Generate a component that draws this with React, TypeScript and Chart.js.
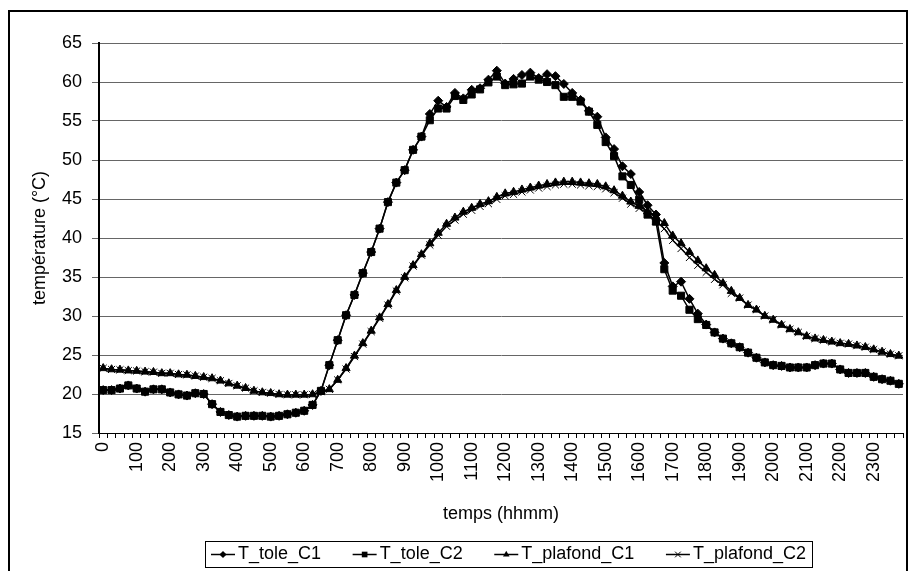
import React, { useEffect, useRef } from 'react';
import { Chart, registerables } from 'chart.js';

Chart.register(...registerables);

const FONT = '"Liberation Sans", Arial, Helvetica, sans-serif';

// time axis: every 15 minutes, labelled hhmm
const hours = [0, 1, 2, 3, 4, 5, 6, 7, 8, 9, 10, 11, 12, 13, 14, 15, 16, 17, 18, 19, 20, 21, 22, 23];
const quarterMinutes = [0, 15, 30, 45];
const categories: string[] = [];
hours.forEach((h) => quarterMinutes.forEach((m) => categories.push(String(h * 100 + m))));

const yTicks = { min: 15, max: 65, step: 5 };

const toleC1 = [
  20.5, 20.5, 20.7, 21.1, 20.7, 20.3, 20.6, 20.6,
  20.2, 19.95, 19.8, 20.1, 20.0, 18.7, 17.7, 17.3,
  17.1, 17.2, 17.2, 17.2, 17.1, 17.2, 17.4, 17.6,
  17.85, 18.6, 20.4, 23.7, 26.9, 30.1, 32.7, 35.5,
  38.2, 41.2, 44.6, 47.1, 48.7, 51.3, 53.0, 55.9,
  57.6, 56.8, 58.6, 57.9, 59.0, 59.2, 60.3, 61.45,
  59.8, 60.4, 60.9, 61.2, 60.5, 61.0, 60.75, 59.75,
  58.6, 57.7, 56.3, 55.55, 52.9, 51.4, 49.2, 48.2,
  45.9, 44.2, 43.0, 36.8, 33.8, 34.4, 32.2, 30.3,
  28.9, 27.9, 27.1, 26.5, 26.0, 25.3, 24.65, 24.05,
  23.7, 23.6, 23.4, 23.4, 23.4, 23.7, 23.9, 23.9,
  23.15, 22.7, 22.7, 22.7, 22.2, 21.9, 21.7, 21.3,
];

const toleC2 = [
  20.5, 20.5, 20.7, 21.1, 20.7, 20.3, 20.6, 20.6,
  20.2, 19.95, 19.8, 20.1, 20.0, 18.7, 17.7, 17.3,
  17.1, 17.2, 17.2, 17.2, 17.1, 17.2, 17.4, 17.6,
  17.85, 18.6, 20.4, 23.7, 26.9, 30.1, 32.7, 35.5,
  38.2, 41.2, 44.6, 47.1, 48.7, 51.3, 53.0, 55.1,
  56.6, 56.6, 58.2, 57.7, 58.4, 59.05, 59.95, 60.7,
  59.6, 59.7, 59.8, 60.7, 60.3, 60.0, 59.6, 58.1,
  58.1, 57.5, 56.2, 54.5, 52.3, 50.5, 47.9, 46.8,
  44.9, 43.0, 42.1, 36.0, 33.25, 32.6, 30.8, 29.6,
  28.85, 27.9, 27.1, 26.5, 26.0, 25.3, 24.65, 24.05,
  23.7, 23.6, 23.4, 23.4, 23.4, 23.7, 23.9, 23.9,
  23.15, 22.7, 22.7, 22.7, 22.2, 21.9, 21.7, 21.3,
];

const plafondC1 = [
  23.3, 23.15, 23.1, 23.0, 22.95, 22.85, 22.8, 22.65,
  22.65, 22.5, 22.45, 22.3, 22.15, 22.0, 21.7, 21.35,
  21.05, 20.75, 20.4, 20.2, 20.1, 19.95, 19.9, 19.9,
  19.9, 19.95, 20.3, 20.6, 21.8, 23.3, 24.9, 26.5,
  28.1, 29.8, 31.5, 33.3, 35.0, 36.5, 37.9, 39.3,
  40.65, 41.8, 42.6, 43.35, 43.85, 44.35, 44.7, 45.25,
  45.7, 45.9, 46.2, 46.45, 46.7, 46.9, 47.1, 47.2,
  47.2, 47.1, 47.0, 46.9, 46.6, 46.1, 45.4, 44.65,
  44.1, 43.4, 42.7, 41.9, 40.3, 39.3, 38.2, 37.1,
  36.1, 35.25, 34.2, 33.2, 32.3, 31.4, 30.8, 30.0,
  29.5, 28.85, 28.3, 27.9, 27.4, 27.1, 26.9, 26.7,
  26.5, 26.4, 26.2, 26.0, 25.7, 25.4, 25.1, 24.9,
];

const plafondC2 = [
  23.3, 23.15, 23.1, 23.0, 22.95, 22.85, 22.8, 22.65,
  22.65, 22.5, 22.45, 22.3, 22.15, 22.0, 21.7, 21.35,
  21.05, 20.75, 20.4, 20.2, 20.1, 19.95, 19.9, 19.9,
  19.9, 19.95, 20.3, 20.6, 21.8, 23.2, 24.8, 26.4,
  28.0, 29.7, 31.4, 33.2, 34.9, 36.4, 37.8, 39.1,
  40.35, 41.5, 42.3, 43.05, 43.55, 44.05, 44.4, 44.95,
  45.4, 45.6, 45.9, 46.15, 46.4, 46.6, 46.8, 46.9,
  46.9, 46.8, 46.7, 46.6, 46.3, 45.8, 45.1, 44.35,
  43.8, 43.2, 42.2, 41.2, 39.7, 38.65, 37.5, 36.5,
  35.6, 34.7, 34.0, 32.9, 32.3, 31.4, 30.8, 30.0,
  29.5, 28.85, 28.3, 27.9, 27.4, 27.1, 26.9, 26.7,
  26.5, 26.4, 26.2, 26.0, 25.7, 25.4, 25.1, 24.9,
];

const seriesLabels = ['T_tole_C1', 'T_tole_C2', 'T_plafond_C1', 'T_plafond_C2'];

function drawMarker(ctx: CanvasRenderingContext2D, style: string, x: number, y: number, r: number) {
  ctx.save();
  ctx.fillStyle = '#000';
  ctx.strokeStyle = '#000';
  ctx.lineWidth = 1;
  ctx.beginPath();
  if (style === 'rectRot') {
    ctx.moveTo(x, y - r);
    ctx.lineTo(x + r, y);
    ctx.lineTo(x, y + r);
    ctx.lineTo(x - r, y);
    ctx.closePath();
    ctx.fill();
  } else if (style === 'rect') {
    const s = Math.SQRT1_2 * r;
    ctx.rect(x - s, y - s, 2 * s, 2 * s);
    ctx.fill();
  } else if (style === 'triangle') {
    ctx.moveTo(x, y - r);
    ctx.lineTo(x + r * 0.866, y + r * 0.5);
    ctx.lineTo(x - r * 0.866, y + r * 0.5);
    ctx.closePath();
    ctx.fill();
  } else {
    const s = Math.SQRT1_2 * r;
    ctx.moveTo(x - s, y - s);
    ctx.lineTo(x + s, y + s);
    ctx.moveTo(x + s, y - s);
    ctx.lineTo(x - s, y + s);
    ctx.stroke();
  }
  ctx.restore();
}

const frameLegendPlugin = {
  id: 'frameLegend',
  beforeDraw(chart: any) {
    const { ctx, width, height } = chart;
    ctx.save();
    ctx.fillStyle = '#fff';
    ctx.fillRect(0, 0, width, height);
    ctx.restore();
  },
  afterDraw(chart: any) {
    const ctx: CanvasRenderingContext2D = chart.ctx;
    ctx.save();
    ctx.strokeStyle = '#000';
    ctx.lineWidth = 2;
    ctx.strokeRect(9, 11, 898, 640);

    ctx.font = `18px ${FONT}`;
    const ds = chart.data.datasets;
    const boxL = 205, boxR = 812, boxT = 541, boxB = 567;
    const sample = 24, gap = 3, pad = 6;
    const widths = ds.map((d: any) => ctx.measureText(d.label).width);
    const used = widths.reduce((a: number, b: number) => a + b, 0) + ds.length * (sample + gap) + 2 * pad;
    const spacing = (boxR - boxL - used) / (ds.length - 1);
    ctx.lineWidth = 1;
    ctx.strokeRect(boxL + 0.5, boxT + 0.5, boxR - boxL, boxB - boxT);
    const cy = (boxT + boxB) / 2 + 0.5;
    let x = boxL + pad;
    ds.forEach((d: any, i: number) => {
      ctx.strokeStyle = '#000';
      ctx.lineWidth = 1.5;
      ctx.beginPath();
      ctx.moveTo(x, cy);
      ctx.lineTo(x + sample, cy);
      ctx.stroke();
      drawMarker(ctx, d.pointStyle, x + sample / 2, cy, d.pointRadius * 0.8);
      ctx.fillStyle = '#000';
      ctx.textBaseline = 'middle';
      ctx.textAlign = 'left';
      ctx.fillText(d.label, x + sample + gap, cy);
      x += sample + gap + widths[i] + spacing;
    });
    ctx.restore();
  },
};

function makeDataset(label: string, data: number[], pointStyle: string, radius: number, order: number) {
  return {
    label,
    data,
    pointStyle,
    pointRadius: radius,
    pointHoverRadius: radius,
    borderColor: '#000',
    backgroundColor: '#000',
    pointBackgroundColor: '#000',
    pointBorderColor: '#000',
    pointBorderWidth: 1,
    borderWidth: 1.5,
    tension: 0,
    fill: false,
    order,
  };
}

export default function App() {
  const canvasRef = useRef<HTMLCanvasElement | null>(null);

  useEffect(() => {
    if (!canvasRef.current) return;
    const font = { family: FONT, size: 18 };
    const chart = new Chart(canvasRef.current, {
      type: 'line',
      data: {
        labels: categories,
        datasets: [
          makeDataset(seriesLabels[0], toleC1, 'rectRot', 4.5, 4),
          makeDataset(seriesLabels[1], toleC2, 'rect', 5, 3),
          makeDataset(seriesLabels[2], plafondC1, 'triangle', 4.7, 2),
          makeDataset(seriesLabels[3], plafondC2, 'crossRot', 5, 1),
        ] as any,
      },
      options: {
        responsive: false,
        animation: false,
        events: [],
        layout: { padding: { top: 43, right: 3, left: 0, bottom: 38 } },
        plugins: {
          legend: { display: false },
          tooltip: { enabled: false },
          title: { display: false },
        },
        scales: {
          x: {
            type: 'category',
            offset: true,
            grid: {
              display: true,
              drawOnChartArea: false,
              drawTicks: true,
              tickLength: 5,
              offset: true,
              color: '#000',
              lineWidth: 1,
            },
            border: { display: true, color: '#000', width: 1 },
            ticks: {
              autoSkip: false,
              maxRotation: 90,
              minRotation: 90,
              padding: 4,
              color: '#000',
              font,
              callback: (_v: any, i: number) => (i % 4 === 0 ? categories[i] : ''),
            },
            title: {
              display: true,
              text: 'temps (hhmm)',
              color: '#000',
              font,
              padding: { top: 0, bottom: 8 },
            },
            afterFit: (s: any) => {
              s.height = 100;
              s.paddingLeft = 0;
              s.paddingRight = 0;
            },
          },
          y: {
            min: yTicks.min,
            max: yTicks.max,
            ticks: { stepSize: yTicks.step, padding: 10, color: '#000', font },
            grid: { color: '#666', lineWidth: 1, tickLength: 7, drawTicks: true },
            border: { display: true, color: '#000', width: 2 },
            title: {
              display: true,
              text: 'température (°C)',
              color: '#000',
              font,
              padding: { top: 29, bottom: 0 },
            },
            afterFit: (s: any) => {
              s.width = 99;
              s.paddingTop = 0;
              s.paddingBottom = 0;
            },
          },
        },
      } as any,
      plugins: [frameLegendPlugin],
    });
    return () => chart.destroy();
  }, []);

  return (
    <div style={{ position: 'absolute', left: 0, top: 0, width: 909, height: 571, background: '#fff' }}>
      <canvas ref={canvasRef} width={909} height={571} style={{ display: 'block', width: 909, height: 571 }} />
    </div>
  );
}
